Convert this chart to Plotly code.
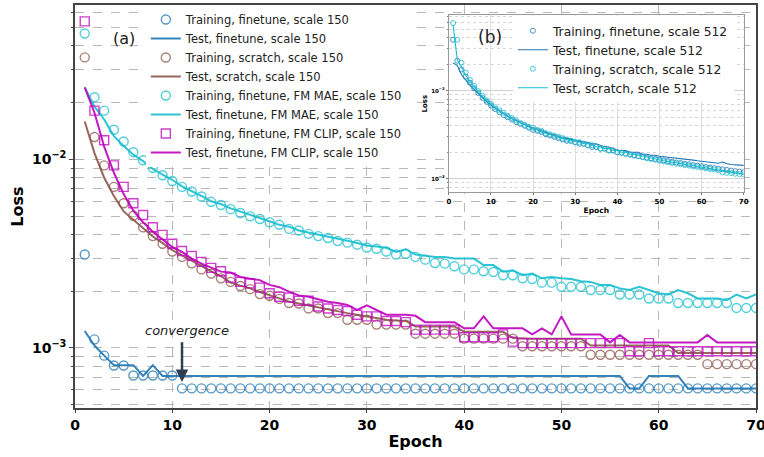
import plotly.graph_objects as go
import math

# ---------------- data: main panel (a), scale 150 ----------------
epochs = list(range(1, 71))

train_finetune_150 = [0.00313, 0.00111, 0.00091, 0.000807, 0.000807] + [0.000714] * 5 + [0.00061] * 60
test_finetune_150 = ([0.00123, 0.00103, 0.00091, 0.00081, 0.00081, 0.00081, 0.00071, 0.00081, 0.00071, 0.00071]
                     + [0.00071] * 46 + [0.00061, 0.00061, 0.00071, 0.00071, 0.00071, 0.00071] + [0.00061] * 8)

train_scratch_150 = [0.0348, 0.01315, 0.0093, 0.00715, 0.00586, 0.00503, 0.00436, 0.00392, 0.00357, 0.00325,
                     0.00304, 0.00281, 0.00261, 0.00248, 0.00234, 0.00224, 0.00213, 0.00205, 0.00193, 0.00189,
                     0.00182, 0.00173, 0.00172, 0.00162, 0.00162, 0.00153, 0.00153, 0.00141, 0.00141, 0.00141,
                     0.00133, 0.00133, 0.00133, 0.00133, 0.00119, 0.00119, 0.00119, 0.00119, 0.00119, 0.00112,
                     0.00112, 0.00112, 0.00112, 0.00112, 0.00112, 0.00102, 0.00102, 0.00102, 0.00102, 0.00102,
                     0.00102, 0.00102, 0.00092, 0.00092, 0.00092, 0.00092, 0.00092, 0.00092, 0.00092, 0.00092,
                     0.00092, 0.00092, 0.00092, 0.00092, 0.00082, 0.00082, 0.00082, 0.00082, 0.00082, 0.00082]
test_scratch_150 = [0.0159, 0.0108, 0.0080, 0.0064, 0.0053, 0.0048, 0.0043, 0.0039, 0.0036, 0.0033,
                    0.0031, 0.0029, 0.0027, 0.00255, 0.0024, 0.00222, 0.00214, 0.00207, 0.00198, 0.0019,
                    0.00183, 0.00176, 0.00172, 0.00168, 0.00163, 0.00159, 0.00156, 0.00153, 0.0015, 0.00147,
                    0.00144, 0.00141, 0.0014, 0.00139, 0.0013, 0.0013, 0.0013, 0.0013, 0.0013, 0.00122,
                    0.00122, 0.00122, 0.00122, 0.00122, 0.00113, 0.00112, 0.00112, 0.00112, 0.00112, 0.00112,
                    0.00112, 0.00112, 0.00103, 0.00103, 0.00103, 0.00103, 0.00103, 0.00103, 0.00103, 0.00103,
                    0.00103, 0.00094, 0.00094, 0.00094, 0.00094, 0.00094, 0.00094, 0.00094, 0.00094, 0.00094]

train_mae_150 = [0.0466, 0.0214, 0.01815, 0.01438, 0.01245, 0.01093, 0.00991, 0.00904, 0.00824, 0.00769,
                 0.00715, 0.00676, 0.00636, 0.00596, 0.00573, 0.00545, 0.0052, 0.00499, 0.00483, 0.00464,
                 0.0045, 0.00428, 0.0042, 0.00403, 0.00392, 0.00383, 0.00369, 0.00362, 0.00353, 0.00341,
                 0.00336, 0.00325, 0.00313, 0.00316, 0.00304, 0.00294, 0.00282, 0.0028, 0.00271, 0.00261,
                 0.00261, 0.00255, 0.00253, 0.00243, 0.00243, 0.00234, 0.00232, 0.00222, 0.00222, 0.00211,
                 0.00211, 0.00211, 0.00203, 0.00203, 0.00203, 0.00192, 0.00192, 0.00192, 0.00183, 0.00183,
                 0.00183, 0.00173, 0.00173, 0.00173, 0.00173, 0.00173, 0.00173, 0.00163, 0.00163, 0.00163]
test_mae_150 = [0.0241, 0.0191, 0.0163, 0.0133, 0.0118, 0.0106, 0.0098, 0.0089, 0.0083, 0.0078,
                0.0072, 0.0068, 0.0064, 0.0060, 0.0058, 0.0055, 0.0053, 0.0051, 0.0049, 0.0047,
                0.0045, 0.0044, 0.0042, 0.0041, 0.0040, 0.0039, 0.0038, 0.0037, 0.0036, 0.0035,
                0.00345, 0.0034, 0.00323, 0.00334, 0.00313, 0.00308, 0.00304, 0.00304, 0.00298, 0.00298,
                0.00298, 0.00275, 0.00275, 0.00254, 0.00258, 0.00243, 0.00248, 0.00234, 0.00238, 0.00234,
                0.00232, 0.00226, 0.00224, 0.00216, 0.00216, 0.00207, 0.00203, 0.00211, 0.00203, 0.00195,
                0.00192, 0.00203, 0.00195, 0.00183, 0.00183, 0.00183, 0.00179, 0.00192, 0.00183, 0.00192]

train_clip_150 = [0.054, 0.01815, 0.01264, 0.0093, 0.00715, 0.00586, 0.00507, 0.00437, 0.00398, 0.00357,
                  0.00327, 0.00308, 0.00286, 0.00266, 0.00255, 0.00236, 0.00224, 0.0022, 0.00209, 0.00195,
                  0.00187, 0.00185, 0.00178, 0.00178, 0.00166, 0.00162, 0.00159, 0.00157, 0.0015, 0.00147,
                  0.00147, 0.00139, 0.00139, 0.00137, 0.00125, 0.00125, 0.00125, 0.00125, 0.00125, 0.00114,
                  0.00114, 0.00114, 0.00114, 0.00118, 0.00108, 0.00106, 0.00106, 0.00106, 0.00106, 0.00106,
                  0.00106, 0.00106, 0.00106, 0.00106, 0.00106, 0.00106, 0.00096, 0.00096, 0.00106, 0.00096,
                  0.00096, 0.00096, 0.00096, 0.00096, 0.00096, 0.00096, 0.00096, 0.00096, 0.00096, 0.00096]
test_clip_150 = [0.0241, 0.0177, 0.0117, 0.0085, 0.00655, 0.00535, 0.00464, 0.00414, 0.00376, 0.00343,
                 0.00323, 0.00298, 0.0028, 0.00266, 0.00254, 0.00251, 0.00238, 0.00233, 0.00229, 0.00216,
                 0.0021, 0.00199, 0.0019, 0.00187, 0.00182, 0.00176, 0.00173, 0.00169, 0.00159, 0.00168,
                 0.00159, 0.0015, 0.0015, 0.0015, 0.00148, 0.00137, 0.00137, 0.00137, 0.00137, 0.00127,
                 0.00127, 0.00147, 0.00127, 0.00127, 0.00127, 0.00127, 0.00118, 0.00127, 0.00118, 0.00147,
                 0.00118, 0.00118, 0.00118, 0.00118, 0.00107, 0.00117, 0.00107, 0.00107, 0.00107, 0.00107,
                 0.00107, 0.00107, 0.00107, 0.00107, 0.00117, 0.00107, 0.00107, 0.00107, 0.00107, 0.00107]

# ---------------- data: inset (b), scale 512 ----------------
train_finetune_512 = [0.038, 0.022, 0.0175, 0.0145, 0.0124, 0.0107, 0.0094, 0.0083, 0.0075, 0.0068,
                      0.0062, 0.0057, 0.0053, 0.0050, 0.0047, 0.0044, 0.0042, 0.0040, 0.0038, 0.0036,
                      0.0035, 0.0034, 0.0032, 0.0031, 0.0030, 0.0029, 0.0028, 0.0027, 0.0027, 0.0026,
                      0.0025, 0.0025, 0.0024, 0.0023, 0.0023, 0.0022, 0.0022, 0.0021, 0.0021, 0.0020,
                      0.00197, 0.00193, 0.00189, 0.00185, 0.00181, 0.00178, 0.00174, 0.00171, 0.00168, 0.00165,
                      0.00162, 0.00159, 0.00156, 0.00153, 0.00151, 0.00148, 0.00146, 0.00143, 0.00141, 0.00139,
                      0.00136, 0.00134, 0.00132, 0.0013, 0.00128, 0.00126, 0.00124, 0.00122, 0.00121, 0.00119]
test_finetune_512 = [0.0207, 0.0195, 0.0152, 0.0132, 0.0116, 0.0103, 0.0092, 0.0083, 0.0075, 0.0069,
                     0.0063, 0.0059, 0.0055, 0.0051, 0.0048, 0.0046, 0.0043, 0.0041, 0.0039, 0.0037,
                     0.0036, 0.0035, 0.0034, 0.0032, 0.0031, 0.0030, 0.0029, 0.0029, 0.0028, 0.0027,
                     0.0027, 0.0026, 0.0026, 0.0025, 0.0025, 0.0024, 0.0023, 0.0023, 0.0022, 0.0021,
                     0.0021, 0.0021, 0.0020, 0.0020, 0.0020, 0.0019, 0.0019, 0.00185, 0.00185, 0.0018,
                     0.00178, 0.00175, 0.00175, 0.0017, 0.0017, 0.00168, 0.00165, 0.00163, 0.0016, 0.00158,
                     0.00158, 0.00155, 0.00153, 0.0015, 0.00155, 0.00148, 0.00145, 0.00143, 0.00143, 0.00142]
train_scratch_512 = [0.059, 0.038, 0.0209, 0.0161, 0.0133, 0.0114, 0.0099, 0.0088, 0.0078, 0.0071,
                     0.0065, 0.0060, 0.0056, 0.0052, 0.0049, 0.0046, 0.0043, 0.0041, 0.0039, 0.0038,
                     0.0036, 0.0035, 0.0033, 0.0032, 0.0031, 0.0030, 0.0029, 0.0028, 0.0027, 0.0026,
                     0.0026, 0.0025, 0.0024, 0.0024, 0.0023, 0.0022, 0.0022, 0.0021, 0.0021, 0.0020,
                     0.00198, 0.00193, 0.00188, 0.00183, 0.0018, 0.00176, 0.00171, 0.00168, 0.00165, 0.0016,
                     0.00157, 0.00154, 0.00151, 0.00148, 0.00146, 0.00143, 0.00141, 0.00138, 0.00136, 0.00134,
                     0.00131, 0.00129, 0.00127, 0.00125, 0.00118, 0.00117, 0.00116, 0.00114, 0.00113, 0.00112]
test_scratch_512 = [0.056, 0.0225, 0.0185, 0.015, 0.0128, 0.011, 0.0097, 0.0086, 0.0077, 0.007,
                    0.0064, 0.0059, 0.0055, 0.0051, 0.0048, 0.0045, 0.0043, 0.0041, 0.0039, 0.0037,
                    0.0036, 0.0034, 0.0033, 0.0032, 0.0031, 0.0030, 0.0029, 0.0028, 0.0027, 0.0027,
                    0.0026, 0.0025, 0.0025, 0.0024, 0.0023, 0.0023, 0.0022, 0.0022, 0.0021, 0.0021,
                    0.0020, 0.0020, 0.0019, 0.0019, 0.00185, 0.0018, 0.00176, 0.00172, 0.00168, 0.00164,
                    0.0016, 0.00157, 0.00154, 0.0015, 0.00147, 0.00145, 0.00142, 0.0014, 0.00137, 0.00135,
                    0.00132, 0.0013, 0.00128, 0.00125, 0.00123, 0.00121, 0.00119, 0.00117, 0.00115, 0.00113]

x_ticks = [0, 10, 20, 30, 40, 50, 60, 70]

# ---------------- styles ----------------
BLUE = "#1f77b4"
BROWN = "#8c564b"
CYAN = "#17becf"
MAG = "#bf00bf"
FONT = "DejaVu Sans"

fig = go.Figure()


def add_pair(train, test, color, symbol, name_tr, name_te):
    fig.add_trace(go.Scatter(
        x=epochs, y=train, mode="markers", name=name_tr, opacity=0.75,
        marker=dict(symbol=symbol, size=9, color=color, line=dict(width=1.4, color=color)),
        xaxis="x", yaxis="y", legend="legend"))
    fig.add_trace(go.Scatter(
        x=epochs, y=test, mode="lines", name=name_te,
        line=dict(color=color, width=2), opacity=0.9,
        xaxis="x", yaxis="y", legend="legend"))


add_pair(train_finetune_150, test_finetune_150, BLUE, "circle-open",
         "Training, finetune, scale 150", "Test, finetune, scale 150")
add_pair(train_scratch_150, test_scratch_150, BROWN, "circle-open",
         "Training, scratch, scale 150", "Test, scratch, scale 150")
add_pair(train_mae_150, test_mae_150, CYAN, "circle-open",
         "Training, finetune, FM MAE, scale 150", "Test, finetune, FM MAE, scale 150")
add_pair(train_clip_150, test_clip_150, MAG, "square-open",
         "Training, finetune, FM CLIP, scale 150", "Test, finetune, FM CLIP, scale 150")

# inset traces
fig.add_trace(go.Scatter(x=epochs, y=train_finetune_512, mode="markers", name="Training, finetune, scale 512",
                         marker=dict(symbol="circle-open", size=5, color=BLUE, line=dict(width=1, color=BLUE)),
                         opacity=0.8, xaxis="x2", yaxis="y2", legend="legend2"))
fig.add_trace(go.Scatter(x=epochs, y=test_finetune_512, mode="lines", name="Test, finetune, scale 512",
                         line=dict(color=BLUE, width=1.1), xaxis="x2", yaxis="y2", legend="legend2"))
fig.add_trace(go.Scatter(x=epochs, y=train_scratch_512, mode="markers", name="Training, scratch, scale 512",
                         marker=dict(symbol="circle-open", size=5, color=CYAN, line=dict(width=1, color=CYAN)),
                         opacity=0.8, xaxis="x2", yaxis="y2", legend="legend2"))
fig.add_trace(go.Scatter(x=epochs, y=test_scratch_512, mode="lines", name="Test, scratch, scale 512",
                         line=dict(color=CYAN, width=1.1), xaxis="x2", yaxis="y2", legend="legend2"))

# ---------------- axes ----------------
GRID = "#b8b8b8"
minor_main = [5e-4, 6e-4, 7e-4, 8e-4, 9e-4, 2e-3, 3e-3, 4e-3, 5e-3, 6e-3, 7e-3, 8e-3, 9e-3,
              2e-2, 3e-2, 4e-2, 5e-2, 6e-2]
minor_inset = [8e-4, 9e-4, 2e-3, 3e-3, 4e-3, 5e-3, 6e-3, 7e-3, 8e-3, 9e-3, 2e-2, 3e-2, 4e-2, 5e-2, 6e-2, 7e-2]

fig.update_layout(
    width=764, height=457,
    margin=dict(l=75, r=8, t=5, b=49, autoexpand=False),
    paper_bgcolor="white", plot_bgcolor="white",
    font=dict(family=FONT, color="black"),
    xaxis=dict(
        domain=[0, 1], range=[0, 70], tickvals=x_ticks, anchor="y", automargin=False,
        ticklabeloverflow="allow",
        showgrid=True, gridcolor=GRID, griddash="dash", gridwidth=1,
        showline=True, linecolor="#444", linewidth=1.5, mirror=True,
        ticks="outside", ticklen=3, tickcolor="#444",
        tickfont=dict(family=FONT, size=14, weight="bold"),
        title=dict(text="Epoch", font=dict(family=FONT, size=16, weight="bold"), standoff=4),
        zeroline=False,
    ),
    yaxis=dict(
        domain=[0, 1], type="log", range=[math.log10(4.8e-4), math.log10(0.066)], anchor="x",
        automargin=False,
        tickvals=[1e-3, 1e-2], ticktext=["10<sup>−3</sup>", "10<sup>−2</sup>"],
        showgrid=True, gridcolor=GRID, griddash="dash", gridwidth=1,
        minor=dict(tickmode="array", tickvals=minor_main, showgrid=True, gridcolor=GRID,
                   griddash="dash", gridwidth=1, ticks="outside", ticklen=2, tickcolor="#444"),
        showline=True, linecolor="#444", linewidth=1.5, mirror=True,
        ticks="outside", ticklen=4, tickcolor="#444",
        tickfont=dict(family=FONT, size=14, weight="bold"),
        title=dict(text="Loss", font=dict(family=FONT, size=16, weight="bold"), standoff=4),
        zeroline=False,
    ),
    xaxis2=dict(
        domain=[0.549, 0.982], range=[0, 70], tickvals=x_ticks, anchor="y2", automargin=False,
        showgrid=True, gridcolor="#dedede", gridwidth=0.6,
        showline=True, linecolor="#9a9a9a", linewidth=1, mirror=True,
        ticks="outside", ticklen=2, tickcolor="#777",
        tickfont=dict(family=FONT, size=7, weight="bold"),
        title=dict(text="Epoch", font=dict(family=FONT, size=7.5, weight="bold"), standoff=2),
        zeroline=False,
    ),
    yaxis2=dict(
        domain=[0.535, 0.975], type="log", range=[-3.155, -1.139], anchor="x2", automargin=False,
        tickvals=[1e-3, 1e-2], ticktext=["10<sup>−3</sup>", "10<sup>−2</sup>"],
        showgrid=True, gridcolor="#d0d0d0", gridwidth=0.6,
        minor=dict(tickmode="array", tickvals=minor_inset, showgrid=True, gridcolor="#d6d6d6",
                   griddash="dot", gridwidth=0.6, ticks="outside", ticklen=1, tickcolor="#777"),
        showline=True, linecolor="#9a9a9a", linewidth=1, mirror=True,
        ticks="outside", ticklen=2, tickcolor="#777",
        tickfont=dict(family=FONT, size=5.5, weight="bold"),
        title=dict(text="Loss", font=dict(family=FONT, size=7, weight="bold"), standoff=2),
        zeroline=False,
    ),
    legend=dict(
        x=0.104, y=1.0, xanchor="left", yanchor="top",
        bgcolor="white", borderwidth=0,
        font=dict(family=FONT, size=11.5, color="#222"),
        tracegroupgap=0,
    ),
    legend2=dict(
        x=0.643, y=0.972, xanchor="left", yanchor="top",
        bgcolor="white", borderwidth=0,
        font=dict(family=FONT, size=12.3, color="#222"),
    ),
    showlegend=True,
)

# ---------------- annotations ----------------
fig.add_annotation(text="(a)", xref="paper", yref="paper", x=0.072, y=0.918,
                   xanchor="center", yanchor="middle",
                   showarrow=False, font=dict(family=FONT, size=16, color="#222"))
fig.add_annotation(text="(b)", xref="paper", yref="paper", x=0.609, y=0.921,
                   xanchor="center", yanchor="middle",
                   showarrow=False, font=dict(family=FONT, size=17, color="#222"))
fig.add_annotation(text="convergence", xref="x", yref="y", x=11.5, y=math.log10(0.00124),
                   xanchor="center", yanchor="middle",
                   showarrow=False, font=dict(family=FONT, size=13, color="#222", style="italic"))
fig.add_annotation(text="", xref="x", yref="y", x=11, y=math.log10(0.00066),
                   axref="x", ayref="y", ax=11, ay=math.log10(0.00109),
                   showarrow=True, arrowhead=2, arrowsize=1, arrowwidth=2.5, arrowcolor="#2c3e50",
                   standoff=0)

fig.write_html("out.html", config={"displayModeBar": False},
               post_script="document.body.style.margin='0px';")
